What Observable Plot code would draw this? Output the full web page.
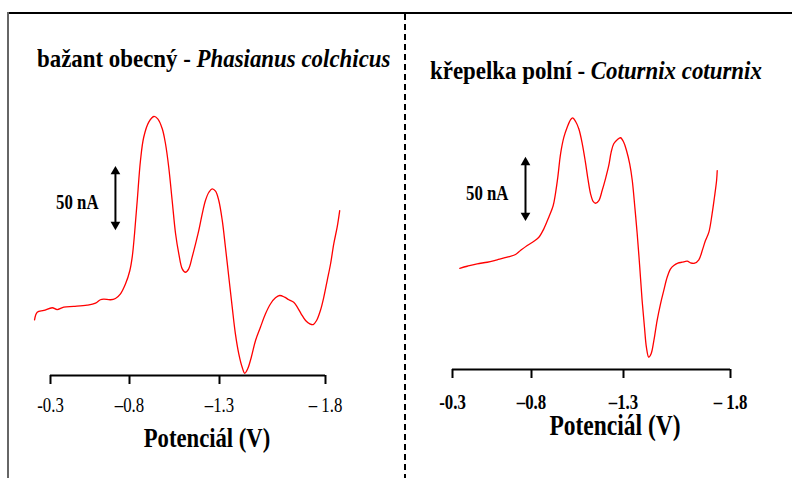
<!DOCTYPE html>
<html><head><meta charset="utf-8">
<script src="https://cdn.jsdelivr.net/npm/d3@7"></script>
<script src="https://cdn.jsdelivr.net/npm/@observablehq/plot@0.6"></script>
<style>
body{margin:0;background:#fff}
#wrap{position:relative;width:792px;height:478px;overflow:hidden;font-family:"Liberation Serif","Times New Roman",serif;color:#000}
.abs{position:absolute;white-space:nowrap}
.title{font-size:26px;font-weight:bold;line-height:26px;transform-origin:0 0;transform:scaleX(0.88)}
.xlabel{font-weight:bold;transform:translateX(-50%) scaleX(0.81)}
.line{position:absolute}
</style></head>
<body>
<div id="wrap">
  <div class="line" style="left:7px;top:12px;width:785px;height:2px;background:#000"></div>
  <div class="line" style="left:7px;top:12px;width:2px;height:466px;background:#666"></div>
  <div class="line" style="left:404px;top:14px;width:2px;height:464px;background:repeating-linear-gradient(to bottom,#000 0 6px,transparent 6px 10px)"></div>
  <div id="leftPlot" class="abs" style="left:0;top:0"></div>
  <div id="rightPlot" class="abs" style="left:396px;top:0"></div>
  <div class="abs title" style="left:37px;top:46px">bažant obecný - <i>Phasianus colchicus</i></div>
  <div class="abs title" style="left:430px;top:58px">křepelka polní - <i>Coturnix coturnix</i></div>
  <div class="abs xlabel" style="left:207px;top:424px;font-size:28px;line-height:28px">Potenciál (V)</div>
  <div class="abs xlabel" style="left:615px;top:415px;font-size:29px;line-height:20px">Potenciál (V)</div>
</div>
<script>
// x-axis ticks (V) and their printed labels
const xTicks = [-0.3, -0.8, -1.3, -1.8];
const xTickLabels = ["-0.3", "\u20130.8", "\u20131.3", "\u2013 1.8"];

// bažant obecný (Phasianus colchicus): potential (V), current (nA, relative)
const leftPotential = [-0.199,-0.216,-0.258,-0.311,-0.342,-0.384,-0.447,-0.532,-0.585,-0.616,-0.637,-0.680,-0.711,-0.743,-0.775,-0.802,-0.815,-0.828,-0.843,-0.861,-0.879,-0.907,-0.935,-0.957,-0.982,-1.000,-1.018,-1.037,-1.056,-1.074,-1.093,-1.111,-1.129,-1.148,-1.167,-1.185,-1.204,-1.222,-1.241,-1.259,-1.278,-1.296,-1.313,-1.328,-1.344,-1.360,-1.375,-1.391,-1.407,-1.419,-1.433,-1.450,-1.470,-1.493,-1.517,-1.541,-1.564,-1.584,-1.607,-1.627,-1.650,-1.667,-1.685,-1.706,-1.726,-1.742,-1.758,-1.776,-1.792,-1.808,-1.824,-1.839,-1.855,-1.867];
const leftCurrent = [47.2,53.6,55.1,57.4,55.9,57.9,58.5,59.6,61.3,64.2,64.7,64.2,65.3,69.2,77.7,89.0,100.3,120.1,148.3,182.2,201.9,214.7,219.5,217.5,209.1,196.4,176.5,148.3,120.1,103.1,90.4,87.5,90.4,100.3,111.6,122.9,137.0,148.3,155.3,158.2,156.2,148.3,131.4,108.7,83.3,57.9,35.3,18.4,7.0,1.9,5.7,15.5,29.7,40.9,52.3,60.8,65.8,67.8,66.4,64.2,62.1,57.9,52.3,46.6,43.8,43.2,46.6,55.1,66.4,80.5,94.7,111.6,125.7,139.8];

// křepelka polní (Coturnix coturnix): potential (V), current (nA, relative)
const rightPotential = [-0.346,-0.393,-0.456,-0.520,-0.583,-0.646,-0.699,-0.730,-0.773,-0.813,-0.840,-0.867,-0.894,-0.918,-0.930,-0.943,-0.958,-0.976,-0.994,-1.012,-1.024,-1.039,-1.057,-1.076,-1.093,-1.108,-1.121,-1.135,-1.148,-1.166,-1.184,-1.202,-1.220,-1.233,-1.247,-1.266,-1.284,-1.301,-1.314,-1.329,-1.341,-1.353,-1.364,-1.376,-1.387,-1.398,-1.407,-1.418,-1.429,-1.442,-1.457,-1.473,-1.488,-1.504,-1.520,-1.535,-1.554,-1.574,-1.598,-1.613,-1.632,-1.652,-1.668,-1.683,-1.699,-1.714,-1.725,-1.735,-1.738];
const rightCurrent = [85.8,87.5,89.6,90.9,93.0,95.2,97.5,100.8,105.1,108.7,112.1,119.2,129.1,139.0,148.9,163.0,182.8,196.9,205.3,211.6,213.3,210.4,204.0,191.3,175.7,160.2,148.9,142.4,140.9,143.2,151.7,161.6,172.9,184.2,191.3,194.7,196.4,192.6,185.6,174.3,160.2,137.5,115.0,86.7,58.5,35.8,18.9,10.4,13.3,24.6,41.5,55.7,66.9,78.2,85.3,88.1,90.1,90.9,91.8,90.4,90.1,93.0,100.8,109.3,116.4,131.9,146.0,160.2,168.6];

// 50 nA scale bars: [potential, lower current, upper current], label anchor
const scaleLabel = "50 nA";
const leftBar = [-0.711, 125.4, 175.4];
const rightBar = [-0.762, 128.0, 178.0];
const leftBarLabel = [-0.604, 146.6];
const rightBarLabel = [-0.654, 149.2];

const tickMap = new Map(xTicks.map((t, i) => [t, xTickLabels[i]]));

function squeeze(svg, s) {
  d3.select(svg).selectAll("text").each(function () {
    const t = this.getAttribute("transform") || "";
    this.setAttribute("transform", t + " scale(" + s + ",1)");
  });
}

function panel({pot, cur, bar, barLabel, xRange, axisY, yTop, marginBottom, tickPadding, tickWeight}) {
  const data = pot.map((v, i) => ({v, c: cur[i]}));
  return Plot.plot({
    width: 396, height: 478,
    marginTop: 0, marginLeft: 0, marginRight: 0, marginBottom,
    style: {fontFamily: "'Liberation Serif','Times New Roman',serif", background: "transparent", color: "#000", overflow: "visible"},
    x: {type: "linear", domain: xTicks, range: xRange, axis: null, label: null},
    y: {type: "linear", domain: [0, 250], range: [axisY, yTop], axis: null, label: null},
    marks: [
      Plot.ruleY([0], {x1: xTicks[0], x2: xTicks[xTicks.length - 1], stroke: "#000", strokeWidth: 2}),
      Plot.axisX({ticks: xTicks, tickFormat: d => tickMap.get(d), label: null, tickSize: 9, tickPadding, fontSize: 21, fontWeight: tickWeight, strokeWidth: 2}),
      Plot.line(data, {x: "v", y: "c", stroke: "#ff0000", strokeWidth: 1.3, curve: "catmull-rom"}),
      Plot.link([bar], {x1: d => d[0], x2: d => d[0], y1: d => d[1] + 3, y2: d => d[2] - 3, stroke: "#000", strokeWidth: 2}),
      Plot.dot([bar], {x: d => d[0], y: d => d[2], symbol: "triangle", r: 3.6, fill: "#000", dy: 3}),
      Plot.dot([bar], {x: d => d[0], y: d => d[1], symbol: "triangle", r: 3.6, fill: "#000", dy: -3, rotate: 180}),
      Plot.text([barLabel], {x: d => d[0], y: d => d[1], text: () => scaleLabel, textAnchor: "end", fontSize: 21, fontWeight: "bold", fill: "#000"})
    ]
  });
}

const left = panel({pot: leftPotential, cur: leftCurrent, bar: leftBar, barLabel: leftBarLabel,
  xRange: [50, 129, 219, 325], axisY: 375, yTop: 80, marginBottom: 103, tickPadding: 13, tickWeight: "normal"});
const right = panel({pot: rightPotential, cur: rightCurrent, bar: rightBar, barLabel: rightBarLabel,
  xRange: [56, 135, 227, 334], axisY: 369, yTop: 74, marginBottom: 109, tickPadding: 16, tickWeight: "bold"});
document.getElementById("leftPlot").append(left);
document.getElementById("rightPlot").append(right);
squeeze(left, 0.8);
squeeze(right, 0.8);
</script>
</body></html>
